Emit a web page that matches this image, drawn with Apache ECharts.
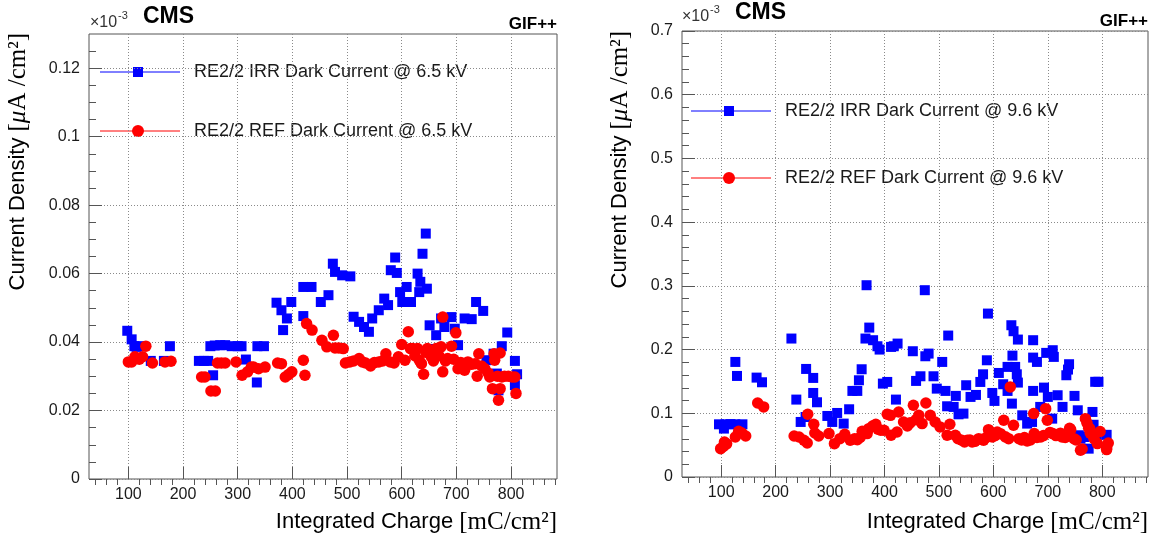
<!DOCTYPE html>
<html>
<head>
<meta charset="utf-8">
<script src="https://cdn.jsdelivr.net/npm/echarts@6/dist/echarts.min.js"></script>
<style>
html,body{margin:0;padding:0;background:#fff;}
#c{width:1161px;height:540px;}
</style>
</head>
<body>
<div id="c"></div>
<script>
// ---------- tick labels ----------
const xTicks = [100, 200, 300, 400, 500, 600, 700, 800];
const yTicksLeft = [0, 0.02, 0.04, 0.06, 0.08, 0.1, 0.12];
const yTicksRight = [0, 0.1, 0.2, 0.3, 0.4, 0.5, 0.6, 0.7];
const legendLeft = ['RE2/2 IRR Dark Current @ 6.5 kV', 'RE2/2 REF Dark Current @ 6.5 kV'];
const legendRight = ['RE2/2 IRR Dark Current @ 9.6 kV', 'RE2/2 REF Dark Current @ 9.6 kV'];

// ---------- data: [integrated charge, current density (x1e-3)] ----------
const irr65 = [[98,0.0433],[106,0.0408],[111,0.0388],[115,0.0386],[122,0.0388],[141,0.0345],[165,0.0345],[176,0.0388],
[229,0.0345],[238,0.0345],[246,0.0345],[255,0.0303],[250,0.0388],[258,0.039],[268,0.0391],[277,0.0391],[289,0.0388],
[300,0.0388],[307,0.0388],[315,0.0349],[335,0.0282],[336,0.0388],[348,0.0388],[371,0.0515],[380,0.0493],[383,0.0435],
[390,0.0469],[398,0.0517],[420,0.0561],[420,0.0476],[435,0.0561],[452,0.0517],[466,0.0537],[474,0.0629],[478,0.0605],
[491,0.0595],[506,0.0592],[512,0.0474],[522,0.0459],[531,0.0444],[540,0.043],[546,0.0469],[558,0.0493],[568,0.0527],
[575,0.0508],[580,0.061],[588,0.0647],[591,0.0602],[597,0.0546],[601,0.0517],[609,0.0561],[617,0.0517],[629,0.06],
[632,0.0546],[634,0.0576],[638,0.0658],[644,0.0717],[646,0.0556],[651,0.0449],[660,0.038],[663,0.042],[672,0.0469],
[678,0.0444],[691,0.0473],[697,0.0439],[703,0.0391],[715,0.0469],[728,0.0467],[736,0.0517],[749,0.0491],[755,0.0347],
[768,0.0366],[774,0.0308],[777,0.0259],[783,0.0388],[793,0.0428],[807,0.0345],[807,0.0274],[811,0.0306]];

const ref65 = [[100,0.0342],[106,0.0342],[112,0.0357],[120,0.035],[126,0.0357],[132,0.0388],[144,0.0339],[167,0.0342],
[178,0.0344],[234,0.0298],[240,0.0298],[251,0.0257],[259,0.0257],[263,0.0339],[270,0.0339],[277,0.0339],[297,0.0342],
[308,0.0303],[318,0.0313],[325,0.0327],[329,0.0327],[338,0.0322],[350,0.0327],[373,0.0339],[380,0.0337],[387,0.0298],
[393,0.0305],[399,0.0313],[420,0.0347],[423,0.0303],[426,0.0454],[436,0.0435],[454,0.0405],[463,0.0386],[475,0.042],
[478,0.0383],[485,0.0383],[493,0.0381],[497,0.0339],[505,0.0342],[512,0.0345],[522,0.0352],[528,0.0342],[534,0.0339],
[543,0.033],[550,0.034],[558,0.0342],[565,0.0345],[571,0.0366],[579,0.0342],[586,0.0339],[594,0.0357],[600,0.0393],
[606,0.0347],[612,0.043],[616,0.0381],[620,0.0381],[624,0.036],[629,0.0381],[632,0.0347],[636,0.0337],[640,0.0306],
[644,0.037],[647,0.0381],[650,0.037],[654,0.0357],[658,0.0345],[663,0.0381],[668,0.036],[672,0.0386],[675,0.0473],
[675,0.0313],[680,0.0345],[684,0.0352],[691,0.0388],[695,0.035],[699,0.0427],[703,0.0322],[708,0.034],[715,0.0318],
[721,0.0342],[727,0.0335],[734,0.0337],[738,0.03],[741,0.0366],[746,0.033],[752,0.0322],[758,0.031],[761,0.0298],
[766,0.0264],[769,0.0366],[770,0.0347],[775,0.03],[777,0.023],[780,0.0368],[780,0.0264],[783,0.0298],[788,0.03],
[795,0.03],[802,0.0298],[807,0.0298],[809,0.025]];

const irr96 = [[96,0.0827],[105,0.076],[108,0.0827],[117,0.083],[126,0.0827],[139,0.0827],[126,0.1806],[129,0.1586],
[165,0.156],[175,0.1487],[229,0.2173],[238,0.1215],[246,0.0864],[255,0.0942],[256,0.1696],[269,0.1555],[269,0.1319],
[276,0.1173],[295,0.0958],[304,0.0864],[313,0.1005],[325,0.0838],[335,0.1063],[341,0.1351],[350,0.1351],[353,0.1518],
[358,0.1691],[365,0.2173],[367,0.301],[372,0.2345],[379,0.2147],[387,0.2052],[391,0.2],[397,0.1466],[405,0.1492],
[412,0.2042],[417,0.2052],[421,0.1215],[424,0.2094],[452,0.1974],[458,0.1508],[466,0.1581],[474,0.2932],[475,0.1895],
[481,0.1937],[490,0.1581],[496,0.1387],[506,0.1806],[512,0.1351],[515,0.111],[517,0.222],[527,0.11],[531,0.1273],
[536,0.0984],[545,0.0995],[550,0.144],[558,0.1257],[568,0.1288],[576,0.1492],[581,0.1612],[588,0.1832],[590,0.2565],
[598,0.1319],[602,0.1194],[610,0.1633],[618,0.1456],[626,0.1351],[626,0.1728],[633,0.2382],[634,0.1152],[635,0.1905],
[637,0.2288],[640,0.1728],[643,0.1612],[645,0.2157],[645,0.1482],[653,0.0968],[662,0.0838],[671,0.0864],[673,0.2147],
[673,0.1874],[673,0.1351],[680,0.1806],[686,0.11],[693,0.1403],[697,0.1948],[700,0.1257],[708,0.0916],[709,0.199],
[711,0.1885],[718,0.1283],[727,0.11],[734,0.1597],[737,0.1686],[739,0.177],[749,0.1273],[755,0.1047],[757,0.0655],
[760,0.0602],[767,0.0628],[775,0.0445],[782,0.1021],[784,0.082],[787,0.1494],[793,0.1494],[790,0.0584],[808,0.0662]];

const ref96 = [[99,0.0445],[104,0.048],[106,0.055],[110,0.052],[126,0.0628],[132,0.0717],[138,0.069],[145,0.0644],
[167,0.1162],[178,0.11],[234,0.0644],[243,0.0628],[252,0.0576],[258,0.0534],[259,0.0984],[270,0.0827],[272,0.0691],
[279,0.0644],[298,0.0681],[308,0.0523],[318,0.0602],[327,0.067],[337,0.0576],[345,0.06],[350,0.0586],[355,0.062],
[359,0.0717],[364,0.07],[368,0.0681],[371,0.0759],[378,0.08],[384,0.0827],[388,0.075],[393,0.0733],[399,0.0733],
[405,0.0984],[411,0.0968],[412,0.0655],[423,0.0707],[426,0.1021],[435,0.0864],[442,0.08],[447,0.085],[453,0.1126],
[458,0.09],[463,0.0968],[469,0.0838],[476,0.1162],[484,0.0968],[493,0.0864],[502,0.0786],[515,0.0655],[520,0.0827],
[530,0.0655],[535,0.06],[542,0.0576],[547,0.055],[552,0.0576],[557,0.058],[561,0.055],[566,0.056],[573,0.0602],
[578,0.059],[582,0.0576],[587,0.062],[591,0.0743],[598,0.0628],[603,0.065],[607,0.0707],[613,0.068],[619,0.089],
[622,0.063],[628,0.0602],[631,0.1414],[637,0.0812],[647,0.0602],[652,0.058],[657,0.062],[662,0.0566],[668,0.058],
[674,0.0995],[675,0.0681],[680,0.062],[687,0.0628],[692,0.065],[696,0.1073],[699,0.089],[704,0.07],[709,0.0681],
[715,0.065],[723,0.0688],[726,0.0628],[732,0.062],[740,0.0766],[742,0.0743],[748,0.0602],[752,0.058],[760,0.0419],
[763,0.044],[769,0.0916],[772,0.0844],[775,0.0766],[777,0.0759],[778,0.0688],[784,0.0636],[785,0.0602],[791,0.0524],
[796,0.0714],[808,0.0455],[808,0.043],[811,0.0532]];

// ---------- helpers (minor tick positions) ----------
function steps(from, to, step, skip) {
  const out = [];
  for (let v = from; v <= to + 1e-9; v += step) {
    const r = Math.round(v * 1e6) / 1e6;
    if (!skip.some(s => Math.abs(s - r) < 1e-9)) out.push(r);
  }
  return out;
}
const xMinor = steps(40, 880, 20, xTicks);
const yMinorLeft = steps(0.005, 0.125, 0.005, yTicksLeft);
const yMinorRight = steps(0.02, 0.68, 0.02, yTicksRight);

const SANS = 'Liberation Sans, Arial, sans-serif';
const SERIF = 'Liberation Serif, Times New Roman, serif';
const FRAME = '#555';
const TXT = '#1a1a1a';

const X_MIN = 28, X_MAX = 884;

function fmt(v) { return String(+(+v).toFixed(3)); }

function mainX(grid) {
  return {
    type: 'value', gridIndex: grid, min: X_MIN, max: X_MAX,
    axisLine: { show: false },
    axisTick: { show: true, inside: true, length: 12, customValues: xTicks, lineStyle: { color: FRAME } },
    axisLabel: { customValues: xTicks, color: TXT, fontFamily: SANS, fontSize: 16, margin: 8, formatter: fmt },
    splitLine: { show: true, lineStyle: { color: '#8a8a8a', type: [1, 2], width: 1 } }
  };
}
function minorX(grid) {
  return {
    type: 'value', gridIndex: grid, min: X_MIN, max: X_MAX,
    axisLine: { show: false },
    axisTick: { show: true, inside: true, length: 6, customValues: xMinor, lineStyle: { color: FRAME } },
    axisLabel: { show: false }, splitLine: { show: false }
  };
}
function mainY(grid, max, ticks) {
  return {
    type: 'value', gridIndex: grid, min: 0, max: max, position: 'left',
    axisLine: { show: false },
    axisTick: { show: true, inside: true, length: 13, customValues: ticks, lineStyle: { color: FRAME } },
    axisLabel: { customValues: ticks, color: TXT, fontFamily: SANS, fontSize: 16, margin: 9, formatter: fmt },
    splitLine: { show: true, lineStyle: { color: '#8a8a8a', type: [1, 2], width: 1 } }
  };
}
function minorY(grid, max, ticks) {
  return {
    type: 'value', gridIndex: grid, min: 0, max: max, position: 'left', offset: 0,
    axisLine: { show: false },
    axisTick: { show: true, inside: true, length: 7, customValues: ticks, lineStyle: { color: FRAME } },
    axisLabel: { show: false }, splitLine: { show: false }
  };
}

const blue = '#0000ff', red = '#ff0000';

function legendItems(x0, yBlue, yRed, labels) {
  const lx1 = x0, lx2 = x0 + 80, mx = x0 + 38, tx = x0 + 94;
  return [
    { type: 'line', shape: { x1: lx1, y1: yBlue, x2: lx2, y2: yBlue }, style: { stroke: blue, lineWidth: 1 } },
    { type: 'rect', shape: { x: mx - 5, y: yBlue - 5, width: 10, height: 10 }, style: { fill: blue } },
    { type: 'text', x: tx, y: yBlue, style: { text: labels[0], font: '18px ' + SANS, fill: TXT, verticalAlign: 'middle' } },
    { type: 'line', shape: { x1: lx1, y1: yRed, x2: lx2, y2: yRed }, style: { stroke: red, lineWidth: 1 } },
    { type: 'circle', shape: { cx: mx, cy: yRed, r: 6 }, style: { fill: red } },
    { type: 'text', x: tx, y: yRed, style: { text: labels[1], font: '18px ' + SANS, fill: TXT, verticalAlign: 'middle' } }
  ];
}

function header(xLeft, yTen, xCms, yCms, xRight, yGif) {
  return [
    { type: 'text', x: xLeft, y: yTen, style: { text: '×10', font: '16px ' + SANS, fill: '#333', verticalAlign: 'middle' } },
    { type: 'text', x: xLeft + 28, y: yTen - 7, style: { text: '-3', font: '11px ' + SANS, fill: '#333', verticalAlign: 'middle' } },
    { type: 'text', x: xCms, y: yCms, style: { text: 'CMS', font: 'bold 23px ' + SANS, fill: '#000', verticalAlign: 'middle' } },
    { type: 'text', x: xRight, y: yGif, style: { text: 'GIF++', font: 'bold 17px ' + SANS, fill: '#000', align: 'right', verticalAlign: 'middle' } }
  ];
}

const richTitle = {
  s: { fontFamily: SANS, fontSize: 22, fill: '#000' },
  r: { fontFamily: SERIF, fontSize: 25, fill: '#000' },
  i: { fontFamily: SERIF, fontSize: 25, fontStyle: 'italic', fill: '#000' }
};

function titles(xRight, yX, xY, yTop) {
  return [
    { type: 'text', x: xRight, y: yX, style: { text: '{s|Integrated Charge }{r|[mC/cm²]}', rich: richTitle, align: 'right', verticalAlign: 'middle' } },
    { type: 'text', x: xY, y: yTop, rotation: Math.PI / 2, style: { text: '{s|Current Density }{r|[}{i|μ}{r|A /cm²]}', rich: richTitle, align: 'right', verticalAlign: 'middle' } }
  ];
}

const option = {
  animation: false,
  backgroundColor: '#fff',
  grid: [
    { left: 89, top: 34, width: 468, height: 445, show: true, borderColor: FRAME, borderWidth: 1, backgroundColor: 'transparent' },
    { left: 682, top: 31, width: 466, height: 446, show: true, borderColor: FRAME, borderWidth: 1, backgroundColor: 'transparent' }
  ],
  xAxis: [mainX(0), minorX(0), mainX(1), minorX(1)],
  yAxis: [mainY(0, 0.13, yTicksLeft), minorY(0, 0.13, yMinorLeft), mainY(1, 0.7, yTicksRight), minorY(1, 0.7, yMinorRight)],
  series: [
    { name: legendLeft[0], type: 'scatter', xAxisIndex: 0, yAxisIndex: 0, data: irr65, symbol: 'rect', symbolSize: 10, itemStyle: { color: blue, opacity: 1 } },
    { name: legendLeft[1], type: 'scatter', xAxisIndex: 0, yAxisIndex: 0, data: ref65, symbol: 'circle', symbolSize: 11.5, itemStyle: { color: red, opacity: 1 } },
    { name: legendRight[0], type: 'scatter', xAxisIndex: 2, yAxisIndex: 2, data: irr96, symbol: 'rect', symbolSize: 10, itemStyle: { color: blue, opacity: 1 } },
    { name: legendRight[1], type: 'scatter', xAxisIndex: 2, yAxisIndex: 2, data: ref96, symbol: 'circle', symbolSize: 11.5, itemStyle: { color: red, opacity: 1 } }
  ],
  graphic: [].concat(
    header(90, 23, 143, 17, 557, 24),
    header(682, 17, 735, 13, 1148, 21),
    legendItems(100, 72, 131, legendLeft),
    legendItems(691, 111, 178, legendRight),
    titles(557, 522, 18, 33),
    titles(1148, 522, 620, 31)
  )
};

const chart = echarts.init(document.getElementById('c'), null, { renderer: 'canvas' });
chart.setOption(option);
</script>
</body>
</html>
